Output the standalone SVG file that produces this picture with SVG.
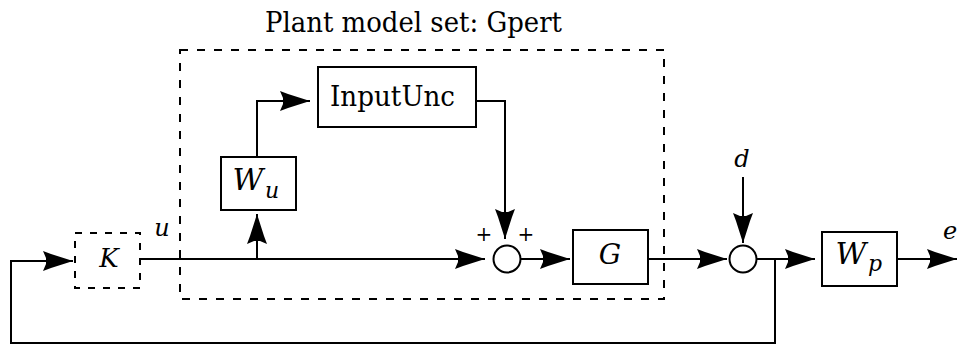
<svg xmlns="http://www.w3.org/2000/svg" width="959" height="344" viewBox="0 0 959 344">
<style>
.box{fill:#fff;stroke:#000;stroke-width:2}
.dash{fill:none;stroke:#000;stroke-width:2;stroke-dasharray:8 9}
.dashk{fill:none;stroke:#000;stroke-width:2;stroke-dasharray:7 8}
.sum{fill:#fff;stroke:#000;stroke-width:2}
.wire{fill:none;stroke:#000;stroke-width:2;marker-end:url(#ah)}
.t{font-family:"DejaVu Serif","Liberation Serif",serif;fill:#000}
.i{font-family:"DejaVu Serif","Liberation Serif",serif;font-style:italic;fill:#000}
</style>
<defs>
<marker id="ah" markerUnits="userSpaceOnUse" viewBox="-32 -12 34 24" markerWidth="34" markerHeight="24" refX="0" refY="0" orient="auto">
<path d="M0,0 L-22,-7 L-30,-10 L-27,-3 L-27,3 L-30,10 L-22,7 Z" fill="#000"/>
</marker>
</defs>

<text class="t" x="265" y="32" font-size="27" textLength="297" lengthAdjust="spacingAndGlyphs">Plant model set: Gpert</text>

<g id="gpert">
<rect class="dash" x="180" y="50" width="484" height="249"/>
</g>

<g id="K">
<rect class="dashk" x="75" y="233" width="65" height="55"/>
<text class="i" x="109" y="267" font-size="26" text-anchor="middle">K</text>
</g>

<g id="Wu">
<rect class="box" x="221" y="157" width="75" height="53"/>
<text class="i" x="248" y="190" font-size="30" text-anchor="middle">W</text>
<text class="i" x="272" y="198" font-size="22" text-anchor="middle">u</text>
</g>

<g id="InputUnc">
<rect class="box" x="318" y="67" width="158" height="60"/>
<text class="t" x="330" y="106" font-size="27" textLength="125" lengthAdjust="spacingAndGlyphs">InputUnc</text>
</g>

<g id="sum1">
<circle class="sum" cx="507" cy="259" r="13.5"/>
<text class="t" x="484" y="241" font-size="20" text-anchor="middle">+</text>
<text class="t" x="526" y="241" font-size="20" text-anchor="middle">+</text>
</g>

<g id="G">
<rect class="box" x="573" y="230" width="75" height="54"/>
<text class="i" x="610" y="264" font-size="28" text-anchor="middle">G</text>
</g>

<g id="sum2">
<circle class="sum" cx="743" cy="259" r="13.5"/>
</g>

<g id="Wp">
<rect class="box" x="822" y="232" width="75" height="54"/>
<text class="i" x="851" y="264" font-size="30" text-anchor="middle">W</text>
<text class="i" x="875" y="271" font-size="22" text-anchor="middle">p</text>
</g>

<g id="labels">
<text class="i" x="162" y="236" font-size="24" text-anchor="middle">u</text>
<text class="i" x="742" y="167" font-size="24" text-anchor="middle">d</text>
<text class="i" x="943" y="239" font-size="24">e</text>
</g>

<g id="connectors">
<path class="wire" d="M140,259 H485"/>
<path class="wire" d="M257,259 V214"/>
<path class="wire" d="M257,157 V101 H310"/>
<path class="wire" d="M476,101 H505 V239"/>
<path class="wire" d="M520.5,259 H570"/>
<path class="wire" d="M648,259 H727"/>
<path class="wire" d="M743,177 V243"/>
<path class="wire" d="M756.5,259 H815"/>
<path class="wire" d="M897,259 H957"/>
<path class="wire" d="M775,259 V343 H11 V261 H73"/>
</g>
</svg>
